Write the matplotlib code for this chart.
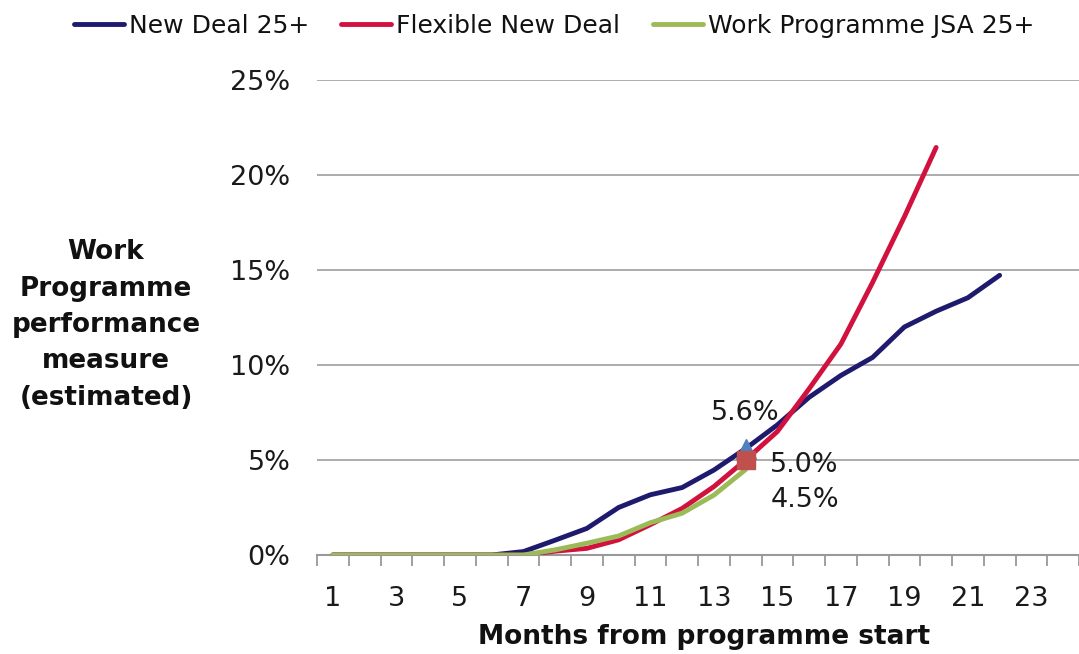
import matplotlib
matplotlib.use("Agg")
import matplotlib.pyplot as plt
from matplotlib.ticker import FixedLocator, FuncFormatter

months_nd = list(range(1, 23))
new_deal = [0, 0, 0, 0, 0, 0, 0.18, 0.78, 1.4, 2.5, 3.17, 3.55, 4.47, 5.6,
            6.85, 8.3, 9.45, 10.4, 12.0, 12.83, 13.54, 14.72]
months_fnd = list(range(1, 21))
flexible = [0, 0, 0, 0, 0, 0, 0, 0.2, 0.35, 0.8, 1.6, 2.45, 3.6, 5.0,
            6.5, 8.75, 11.1, 14.35, 17.8, 21.45]
months_wp = list(range(1, 15))
work_prog = [0, 0, 0, 0, 0, 0, 0, 0.27, 0.62, 1.0, 1.7, 2.2, 3.15, 4.5]

series_names = ["New Deal 25+", "Flexible New Deal", "Work Programme JSA 25+"]
x_tick_labels = [1, 3, 5, 7, 9, 11, 13, 15, 17, 19, 21, 23]
y_ticks = [0, 5, 10, 15, 20, 25]
marker_month = 14
labels_at_marker = ["5.6%", "5.0%", "4.5%"]

navy = "#1e1a6e"
crimson = "#d2123e"
green = "#9bbb59"

plt.rcParams['font.family'] = ['DejaVu Sans']

fig = plt.figure(figsize=(10.79, 6.54), dpi=100)
ax = fig.add_axes([317 / 1079, 1 - 555 / 654, 762 / 1079, (555 - 80) / 654])

lw = 3.5
ax.plot(months_nd, new_deal, color=navy, lw=lw, solid_capstyle='round',
        solid_joinstyle='round', label=series_names[0], zorder=3)
ax.plot(months_fnd, flexible, color=crimson, lw=lw, solid_capstyle='round',
        solid_joinstyle='round', label=series_names[1], zorder=4)
ax.plot(months_wp, work_prog, color=green, lw=lw, solid_capstyle='round',
        solid_joinstyle='round', label=series_names[2], zorder=5)

# markers at month 14
i_nd = months_nd.index(marker_month)
i_f = months_fnd.index(marker_month)
i_w = months_wp.index(marker_month)
ax.plot([marker_month], [new_deal[i_nd]], marker='^', ms=15, color="#4f81bd",
        mec="#4f81bd", ls='none', zorder=6)
ax.plot([marker_month], [flexible[i_f]], marker='s', ms=13, color="#c0504d",
        mec="#c0504d", ls='none', zorder=7)

fs = 19.5
tc = '#1a1a1a'
ax.annotate(labels_at_marker[0], (marker_month, new_deal[i_nd]), xytext=(0, 25.6),
            textcoords='offset points', ha='center', va='center', fontsize=fs,
            color=tc, zorder=8)
ax.annotate(labels_at_marker[1], (marker_month, flexible[i_f]), xytext=(42, -3.6),
            textcoords='offset points', ha='center', va='center', fontsize=fs,
            color=tc, zorder=8)
ax.annotate(labels_at_marker[2], (marker_month, work_prog[i_w]), xytext=(43, -22),
            textcoords='offset points', ha='center', va='center', fontsize=fs,
            color=tc, zorder=8)

ax.set_xlim(0.5, 24.5)
ax.set_ylim(0, 25)

ax.set_yticks(y_ticks)
ax.yaxis.set_major_formatter(FuncFormatter(lambda v, p: f"{int(v)}%"))
ax.tick_params(axis='y', length=0, pad=19, labelsize=fs, labelcolor=tc)
ax.grid(axis='y', color='#a6a6a6', lw=1.3)
ax.set_axisbelow(True)

ax.set_xticks(x_tick_labels)
ax.set_xticklabels([str(v) for v in x_tick_labels])
ax.xaxis.set_minor_locator(FixedLocator([k + 0.5 for k in range(0, 25)]))
ax.tick_params(axis='x', which='major', length=0, pad=22, labelsize=fs,
               labelcolor=tc)
ax.tick_params(axis='x', which='minor', length=8, width=1.3, color='#999999',
               direction='out')

for s in ['top', 'right', 'left']:
    ax.spines[s].set_visible(False)
ax.spines['bottom'].set_color('#999999')
ax.spines['bottom'].set_linewidth(1.5)

fig.text(106 / 1079, 1 - 325 / 654,
         "Work\nProgramme\nperformance\nmeasure\n(estimated)",
         ha='center', va='center', multialignment='center', fontsize=18.9,
         fontweight='bold', linespacing=1.52, color='#111111')
fig.text(704 / 1079, 1 - 637 / 654, "Months from programme start",
         ha='center', va='center', fontsize=19, fontweight='bold', color='#111111')

handles, labs = ax.get_legend_handles_labels()
leg = fig.legend(handles, labs, loc='center', bbox_to_anchor=(554 / 1079, 1 - 26 / 654),
                 ncol=3, frameon=False, fontsize=18, handlelength=2.0,
                 handletextpad=0.2, columnspacing=1.3, borderaxespad=0)
for t in leg.get_texts():
    t.set_color('#111111')

fig.savefig("out.png", dpi=100)
